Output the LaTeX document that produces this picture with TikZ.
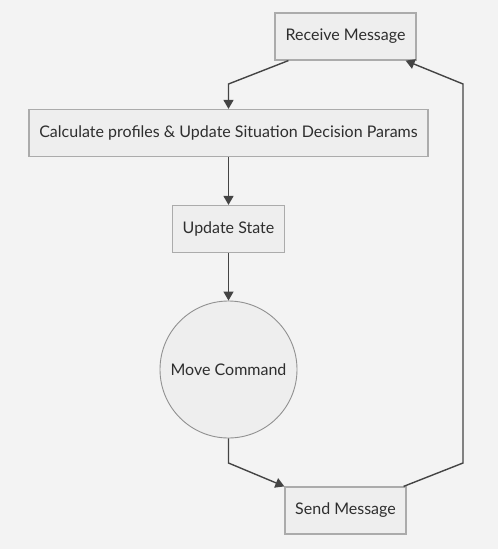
\documentclass[tikz,border=0pt]{standalone}
\usepackage{fontspec}
\setmainfont{Lato}
\usepackage{xcolor}
\usepackage{tikz}
\usetikzlibrary{arrows.meta, positioning, calc}

\definecolor{bgcol}{HTML}{F3F3F3}
\definecolor{boxfill}{HTML}{EEEEEE}
\definecolor{boxline}{HTML}{ABABAB}
\definecolor{txtcol}{HTML}{2E2E2E}
\definecolor{arrcol}{HTML}{444444}

\tikzset{
  stepbox/.style={draw=boxline, fill=boxfill, line width=1.2pt, text=txtcol,
    minimum height=47pt, inner sep=0pt},
  roundstep/.style={circle, draw=boxline!85!black, fill=boxfill, line width=0.9pt,
    text=txtcol, minimum size=137pt, inner sep=0pt},
  arr/.style={draw=arrcol, line width=1.4pt, -{Triangle[length=9pt,width=10pt]}}
}

\begin{document}
\begin{tikzpicture}[x=1pt, y=-1pt, font=\fontsize{16}{19}\selectfont]
  \fill[bgcol] (0,0) rectangle (498,549);
  \useasboundingbox (0,0) rectangle (498,549);

  \node[stepbox, minimum width=141pt] (recv) at (345.5,36.5) {Receive Message};
  \node[stepbox, minimum width=399pt] (calc) at (228.5,133) {Calculate profiles \& Update Situation Decision Params};
  \node[stepbox, minimum width=112pt] (upd) at (228.5,229) {Update State};
  \node[roundstep] (move) at (228.5,369.5) {Move Command};
  \node[stepbox, minimum width=121pt] (send) at (345.5,510.5) {Send Message};

  \coordinate (rtop) at (463,84);
  \coordinate (rbot) at (463,463);

  \draw[arr] ($(recv.south west)+(14,0)$) -- (calc.north |- rtop) -- (calc.north);
  \draw[arr] (calc) -- (upd);
  \draw[arr] (upd) -- (move);
  \draw[arr] (move.south) -- (move.south |- rbot) -- (send.north west);
  \draw[arr] ($(send.north east)+(-3,0)$) -- (rbot) -- (rtop) -- ($(recv.south east)+(-11,0)$);
\end{tikzpicture}
\end{document}
